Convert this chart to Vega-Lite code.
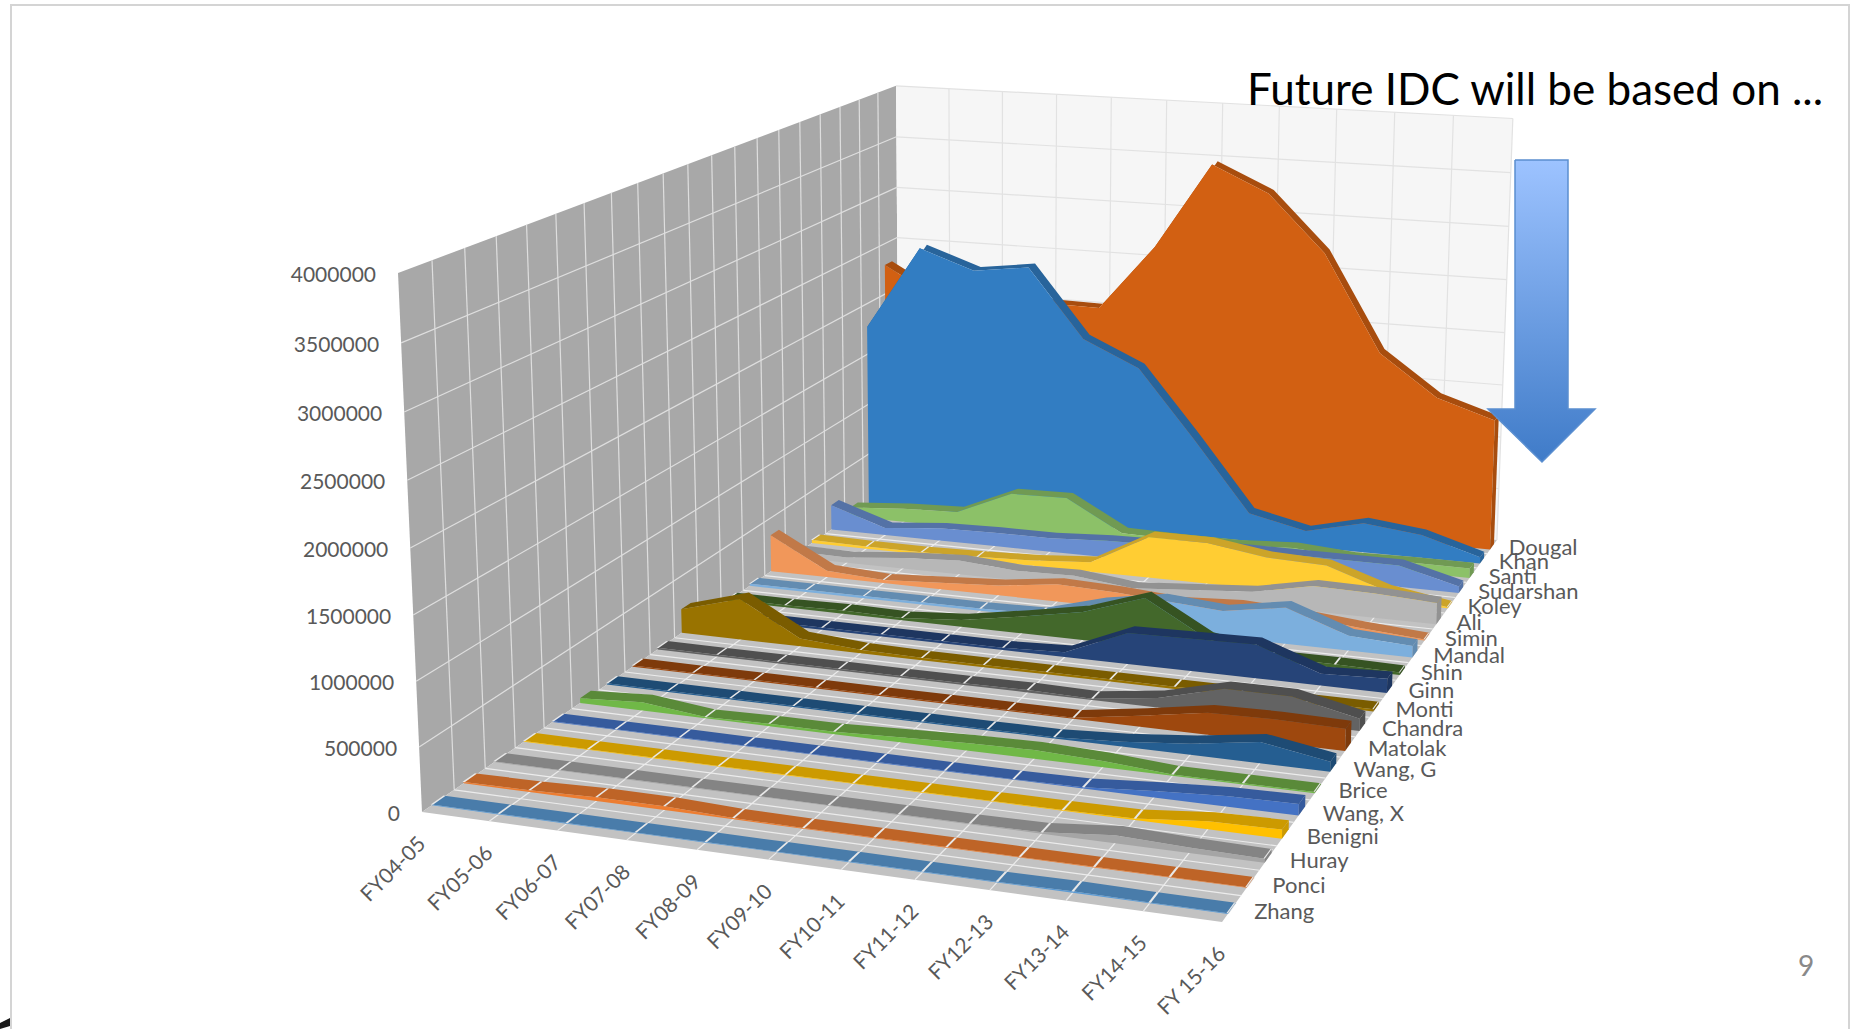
{"$schema":"https://vega.github.io/schema/vega-lite/v6.json","width":1851,"height":1029,"padding":0,"autosize":{"type":"none","contains":"padding"},"background":"white","config":{"view":{"stroke":null}},
"datasets":{
"walls":[
{"p":"left","o":0,"fy":0,"d":0,"val":0},{"p":"left","o":1,"fy":0,"d":20,"val":0},{"p":"left","o":2,"fy":0,"d":20,"val":4000000},{"p":"left","o":3,"fy":0,"d":0,"val":4000000},
{"p":"back","o":0,"fy":0,"d":20,"val":0},{"p":"back","o":1,"fy":11,"d":20,"val":0},{"p":"back","o":2,"fy":11,"d":20,"val":4000000},{"p":"back","o":3,"fy":0,"d":20,"val":4000000},
{"p":"floor","o":0,"fy":0,"d":0,"val":0},{"p":"floor","o":1,"fy":11,"d":0,"val":0},{"p":"floor","o":2,"fy":11,"d":20,"val":0},{"p":"floor","o":3,"fy":0,"d":20,"val":0}],
"grid":[
{"w":"left","fy":0,"d":1,"val":0,"fy2":0,"d2":1,"val2":4000000},{"w":"left","fy":0,"d":2,"val":0,"fy2":0,"d2":2,"val2":4000000},{"w":"left","fy":0,"d":3,"val":0,"fy2":0,"d2":3,"val2":4000000},{"w":"left","fy":0,"d":4,"val":0,"fy2":0,"d2":4,"val2":4000000},{"w":"left","fy":0,"d":5,"val":0,"fy2":0,"d2":5,"val2":4000000},{"w":"left","fy":0,"d":6,"val":0,"fy2":0,"d2":6,"val2":4000000},{"w":"left","fy":0,"d":7,"val":0,"fy2":0,"d2":7,"val2":4000000},{"w":"left","fy":0,"d":8,"val":0,"fy2":0,"d2":8,"val2":4000000},{"w":"left","fy":0,"d":9,"val":0,"fy2":0,"d2":9,"val2":4000000},{"w":"left","fy":0,"d":10,"val":0,"fy2":0,"d2":10,"val2":4000000},{"w":"left","fy":0,"d":11,"val":0,"fy2":0,"d2":11,"val2":4000000},{"w":"left","fy":0,"d":12,"val":0,"fy2":0,"d2":12,"val2":4000000},{"w":"left","fy":0,"d":13,"val":0,"fy2":0,"d2":13,"val2":4000000},{"w":"left","fy":0,"d":14,"val":0,"fy2":0,"d2":14,"val2":4000000},{"w":"left","fy":0,"d":15,"val":0,"fy2":0,"d2":15,"val2":4000000},{"w":"left","fy":0,"d":16,"val":0,"fy2":0,"d2":16,"val2":4000000},{"w":"left","fy":0,"d":17,"val":0,"fy2":0,"d2":17,"val2":4000000},{"w":"left","fy":0,"d":18,"val":0,"fy2":0,"d2":18,"val2":4000000},{"w":"left","fy":0,"d":19,"val":0,"fy2":0,"d2":19,"val2":4000000},
{"w":"left","fy":0,"d":0,"val":500000,"fy2":0,"d2":20,"val2":500000},{"w":"left","fy":0,"d":0,"val":1000000,"fy2":0,"d2":20,"val2":1000000},{"w":"left","fy":0,"d":0,"val":1500000,"fy2":0,"d2":20,"val2":1500000},{"w":"left","fy":0,"d":0,"val":2000000,"fy2":0,"d2":20,"val2":2000000},{"w":"left","fy":0,"d":0,"val":2500000,"fy2":0,"d2":20,"val2":2500000},{"w":"left","fy":0,"d":0,"val":3000000,"fy2":0,"d2":20,"val2":3000000},{"w":"left","fy":0,"d":0,"val":3500000,"fy2":0,"d2":20,"val2":3500000},
{"w":"back","fy":1,"d":20,"val":0,"fy2":1,"d2":20,"val2":4000000},{"w":"back","fy":2,"d":20,"val":0,"fy2":2,"d2":20,"val2":4000000},{"w":"back","fy":3,"d":20,"val":0,"fy2":3,"d2":20,"val2":4000000},{"w":"back","fy":4,"d":20,"val":0,"fy2":4,"d2":20,"val2":4000000},{"w":"back","fy":5,"d":20,"val":0,"fy2":5,"d2":20,"val2":4000000},{"w":"back","fy":6,"d":20,"val":0,"fy2":6,"d2":20,"val2":4000000},{"w":"back","fy":7,"d":20,"val":0,"fy2":7,"d2":20,"val2":4000000},{"w":"back","fy":8,"d":20,"val":0,"fy2":8,"d2":20,"val2":4000000},{"w":"back","fy":9,"d":20,"val":0,"fy2":9,"d2":20,"val2":4000000},{"w":"back","fy":10,"d":20,"val":0,"fy2":10,"d2":20,"val2":4000000},{"w":"back","fy":11,"d":20,"val":0,"fy2":11,"d2":20,"val2":4000000},
{"w":"back","fy":0,"d":20,"val":500000,"fy2":11,"d2":20,"val2":500000},{"w":"back","fy":0,"d":20,"val":1000000,"fy2":11,"d2":20,"val2":1000000},{"w":"back","fy":0,"d":20,"val":1500000,"fy2":11,"d2":20,"val2":1500000},{"w":"back","fy":0,"d":20,"val":2000000,"fy2":11,"d2":20,"val2":2000000},{"w":"back","fy":0,"d":20,"val":2500000,"fy2":11,"d2":20,"val2":2500000},{"w":"back","fy":0,"d":20,"val":3000000,"fy2":11,"d2":20,"val2":3000000},{"w":"back","fy":0,"d":20,"val":3500000,"fy2":11,"d2":20,"val2":3500000},{"w":"back","fy":0,"d":20,"val":4000000,"fy2":11,"d2":20,"val2":4000000},
{"w":"floor","fy":0,"d":1,"val":0,"fy2":11,"d2":1,"val2":0},{"w":"floor","fy":0,"d":2,"val":0,"fy2":11,"d2":2,"val2":0},{"w":"floor","fy":0,"d":3,"val":0,"fy2":11,"d2":3,"val2":0},{"w":"floor","fy":0,"d":4,"val":0,"fy2":11,"d2":4,"val2":0},{"w":"floor","fy":0,"d":5,"val":0,"fy2":11,"d2":5,"val2":0},{"w":"floor","fy":0,"d":6,"val":0,"fy2":11,"d2":6,"val2":0},{"w":"floor","fy":0,"d":7,"val":0,"fy2":11,"d2":7,"val2":0},{"w":"floor","fy":0,"d":8,"val":0,"fy2":11,"d2":8,"val2":0},{"w":"floor","fy":0,"d":9,"val":0,"fy2":11,"d2":9,"val2":0},{"w":"floor","fy":0,"d":10,"val":0,"fy2":11,"d2":10,"val2":0},{"w":"floor","fy":0,"d":11,"val":0,"fy2":11,"d2":11,"val2":0},{"w":"floor","fy":0,"d":12,"val":0,"fy2":11,"d2":12,"val2":0},{"w":"floor","fy":0,"d":13,"val":0,"fy2":11,"d2":13,"val2":0},{"w":"floor","fy":0,"d":14,"val":0,"fy2":11,"d2":14,"val2":0},{"w":"floor","fy":0,"d":15,"val":0,"fy2":11,"d2":15,"val2":0},{"w":"floor","fy":0,"d":16,"val":0,"fy2":11,"d2":16,"val2":0},{"w":"floor","fy":0,"d":17,"val":0,"fy2":11,"d2":17,"val2":0},{"w":"floor","fy":0,"d":18,"val":0,"fy2":11,"d2":18,"val2":0},{"w":"floor","fy":0,"d":19,"val":0,"fy2":11,"d2":19,"val2":0},
{"w":"floor","fy":1,"d":0,"val":0,"fy2":1,"d2":20,"val2":0},{"w":"floor","fy":2,"d":0,"val":0,"fy2":2,"d2":20,"val2":0},{"w":"floor","fy":3,"d":0,"val":0,"fy2":3,"d2":20,"val2":0},{"w":"floor","fy":4,"d":0,"val":0,"fy2":4,"d2":20,"val2":0},{"w":"floor","fy":5,"d":0,"val":0,"fy2":5,"d2":20,"val2":0},{"w":"floor","fy":6,"d":0,"val":0,"fy2":6,"d2":20,"val2":0},{"w":"floor","fy":7,"d":0,"val":0,"fy2":7,"d2":20,"val2":0},{"w":"floor","fy":8,"d":0,"val":0,"fy2":8,"d2":20,"val2":0},{"w":"floor","fy":9,"d":0,"val":0,"fy2":9,"d2":20,"val2":0},{"w":"floor","fy":10,"d":0,"val":0,"fy2":10,"d2":20,"val2":0}],
"ticks":[{"val":0},{"val":500000},{"val":1000000},{"val":1500000},{"val":2000000},{"val":2500000},{"val":3000000},{"val":3500000},{"val":4000000}],
"cells":[
{"s":"Dougal","j":19,"i":0,"fy":"FY04-05","value":2290000},{"s":"Dougal","j":19,"i":1,"fy":"FY05-06","value":2000000},{"s":"Dougal","j":19,"i":2,"fy":"FY06-07","value":2050000},{"s":"Dougal","j":19,"i":3,"fy":"FY07-08","value":2030000},{"s":"Dougal","j":19,"i":4,"fy":"FY08-09","value":2020000},{"s":"Dougal","j":19,"i":5,"fy":"FY09-10","value":2650000},{"s":"Dougal","j":19,"i":6,"fy":"FY10-11","value":3470000},{"s":"Dougal","j":19,"i":7,"fy":"FY11-12","value":3230000},{"s":"Dougal","j":19,"i":8,"fy":"FY12-13","value":2700000},{"s":"Dougal","j":19,"i":9,"fy":"FY13-14","value":1790000},{"s":"Dougal","j":19,"i":10,"fy":"FY14-15","value":1410000},{"s":"Dougal","j":19,"i":11,"fy":"FY 15-16","value":1240000},
{"s":"Khan","j":18,"i":0,"fy":"FY04-05","value":1770000},{"s":"Khan","j":18,"i":1,"fy":"FY05-06","value":2580000},{"s":"Khan","j":18,"i":2,"fy":"FY06-07","value":2400000},{"s":"Khan","j":18,"i":3,"fy":"FY07-08","value":2470000},{"s":"Khan","j":18,"i":4,"fy":"FY08-09","value":1820000},{"s":"Khan","j":18,"i":5,"fy":"FY09-10","value":1580000},{"s":"Khan","j":18,"i":6,"fy":"FY10-11","value":940000},{"s":"Khan","j":18,"i":7,"fy":"FY11-12","value":270000},{"s":"Khan","j":18,"i":8,"fy":"FY12-13","value":150000},{"s":"Khan","j":18,"i":9,"fy":"FY13-14","value":280000},{"s":"Khan","j":18,"i":10,"fy":"FY14-15","value":220000},{"s":"Khan","j":18,"i":11,"fy":"FY 15-16","value":60000},
{"s":"Santi","j":17,"i":0,"fy":"FY04-05","value":90000},{"s":"Santi","j":17,"i":1,"fy":"FY05-06","value":130000},{"s":"Santi","j":17,"i":2,"fy":"FY06-07","value":150000},{"s":"Santi","j":17,"i":3,"fy":"FY07-08","value":380000},{"s":"Santi","j":17,"i":4,"fy":"FY08-09","value":390000},{"s":"Santi","j":17,"i":5,"fy":"FY09-10","value":100000},{"s":"Santi","j":17,"i":6,"fy":"FY10-11","value":90000},{"s":"Santi","j":17,"i":7,"fy":"FY11-12","value":90000},{"s":"Santi","j":17,"i":8,"fy":"FY12-13","value":120000},{"s":"Santi","j":17,"i":9,"fy":"FY13-14","value":80000},{"s":"Santi","j":17,"i":10,"fy":"FY14-15","value":90000},{"s":"Santi","j":17,"i":11,"fy":"FY 15-16","value":90000},
{"s":"Sudarshan","j":16,"i":0,"fy":"FY04-05","value":240000},{"s":"Sudarshan","j":16,"i":1,"fy":"FY05-06","value":70000},{"s":"Sudarshan","j":16,"i":2,"fy":"FY06-07","value":120000},{"s":"Sudarshan","j":16,"i":3,"fy":"FY07-08","value":130000},{"s":"Sudarshan","j":16,"i":4,"fy":"FY08-09","value":130000},{"s":"Sudarshan","j":16,"i":5,"fy":"FY09-10","value":160000},{"s":"Sudarshan","j":16,"i":6,"fy":"FY10-11","value":170000},{"s":"Sudarshan","j":16,"i":7,"fy":"FY11-12","value":200000},{"s":"Sudarshan","j":16,"i":8,"fy":"FY12-13","value":200000},{"s":"Sudarshan","j":16,"i":9,"fy":"FY13-14","value":200000},{"s":"Sudarshan","j":16,"i":10,"fy":"FY14-15","value":200000},{"s":"Sudarshan","j":16,"i":11,"fy":"FY 15-16","value":60000},
{"s":"Koley","j":15,"i":0,"fy":"FY04-05","value":30000},{"s":"Koley","j":15,"i":1,"fy":"FY05-06","value":20000},{"s":"Koley","j":15,"i":2,"fy":"FY06-07","value":20000},{"s":"Koley","j":15,"i":3,"fy":"FY07-08","value":30000},{"s":"Koley","j":15,"i":4,"fy":"FY08-09","value":50000},{"s":"Koley","j":15,"i":5,"fy":"FY09-10","value":90000},{"s":"Koley","j":15,"i":6,"fy":"FY10-11","value":380000},{"s":"Koley","j":15,"i":7,"fy":"FY11-12","value":380000},{"s":"Koley","j":15,"i":8,"fy":"FY12-13","value":300000},{"s":"Koley","j":15,"i":9,"fy":"FY13-14","value":280000},{"s":"Koley","j":15,"i":10,"fy":"FY14-15","value":100000},{"s":"Koley","j":15,"i":11,"fy":"FY 15-16","value":10000},
{"s":"Ali","j":14,"i":0,"fy":"FY04-05","value":60000},{"s":"Ali","j":14,"i":1,"fy":"FY05-06","value":50000},{"s":"Ali","j":14,"i":2,"fy":"FY06-07","value":100000},{"s":"Ali","j":14,"i":3,"fy":"FY07-08","value":130000},{"s":"Ali","j":14,"i":4,"fy":"FY08-09","value":90000},{"s":"Ali","j":14,"i":5,"fy":"FY09-10","value":100000},{"s":"Ali","j":14,"i":6,"fy":"FY10-11","value":40000},{"s":"Ali","j":14,"i":7,"fy":"FY11-12","value":80000},{"s":"Ali","j":14,"i":8,"fy":"FY12-13","value":120000},{"s":"Ali","j":14,"i":9,"fy":"FY13-14","value":230000},{"s":"Ali","j":14,"i":10,"fy":"FY14-15","value":220000},{"s":"Ali","j":14,"i":11,"fy":"FY 15-16","value":190000},
{"s":"Simin","j":13,"i":0,"fy":"FY04-05","value":340000},{"s":"Simin","j":13,"i":1,"fy":"FY05-06","value":60000},{"s":"Simin","j":13,"i":2,"fy":"FY06-07","value":30000},{"s":"Simin","j":13,"i":3,"fy":"FY07-08","value":60000},{"s":"Simin","j":13,"i":4,"fy":"FY08-09","value":90000},{"s":"Simin","j":13,"i":5,"fy":"FY09-10","value":160000},{"s":"Simin","j":13,"i":6,"fy":"FY10-11","value":140000},{"s":"Simin","j":13,"i":7,"fy":"FY11-12","value":100000},{"s":"Simin","j":13,"i":8,"fy":"FY12-13","value":130000},{"s":"Simin","j":13,"i":9,"fy":"FY13-14","value":100000},{"s":"Simin","j":13,"i":10,"fy":"FY14-15","value":50000},{"s":"Simin","j":13,"i":11,"fy":"FY 15-16","value":10000},
{"s":"Mandal","j":12,"i":0,"fy":"FY04-05","value":20000},{"s":"Mandal","j":12,"i":1,"fy":"FY05-06","value":20000},{"s":"Mandal","j":12,"i":2,"fy":"FY06-07","value":20000},{"s":"Mandal","j":12,"i":3,"fy":"FY07-08","value":20000},{"s":"Mandal","j":12,"i":4,"fy":"FY08-09","value":20000},{"s":"Mandal","j":12,"i":5,"fy":"FY09-10","value":30000},{"s":"Mandal","j":12,"i":6,"fy":"FY10-11","value":180000},{"s":"Mandal","j":12,"i":7,"fy":"FY11-12","value":270000},{"s":"Mandal","j":12,"i":8,"fy":"FY12-13","value":230000},{"s":"Mandal","j":12,"i":9,"fy":"FY13-14","value":320000},{"s":"Mandal","j":12,"i":10,"fy":"FY14-15","value":130000},{"s":"Mandal","j":12,"i":11,"fy":"FY 15-16","value":100000},
{"s":"Shin","j":11,"i":0,"fy":"FY04-05","value":20000},{"s":"Shin","j":11,"i":1,"fy":"FY05-06","value":20000},{"s":"Shin","j":11,"i":2,"fy":"FY06-07","value":30000},{"s":"Shin","j":11,"i":3,"fy":"FY07-08","value":20000},{"s":"Shin","j":11,"i":4,"fy":"FY08-09","value":60000},{"s":"Shin","j":11,"i":5,"fy":"FY09-10","value":150000},{"s":"Shin","j":11,"i":6,"fy":"FY10-11","value":250000},{"s":"Shin","j":11,"i":7,"fy":"FY11-12","value":430000},{"s":"Shin","j":11,"i":8,"fy":"FY12-13","value":130000},{"s":"Shin","j":11,"i":9,"fy":"FY13-14","value":30000},{"s":"Shin","j":11,"i":10,"fy":"FY14-15","value":30000},{"s":"Shin","j":11,"i":11,"fy":"FY 15-16","value":20000},
{"s":"Ginn","j":10,"i":0,"fy":"FY04-05","value":20000},{"s":"Ginn","j":10,"i":1,"fy":"FY05-06","value":20000},{"s":"Ginn","j":10,"i":2,"fy":"FY06-07","value":20000},{"s":"Ginn","j":10,"i":3,"fy":"FY07-08","value":20000},{"s":"Ginn","j":10,"i":4,"fy":"FY08-09","value":20000},{"s":"Ginn","j":10,"i":5,"fy":"FY09-10","value":20000},{"s":"Ginn","j":10,"i":6,"fy":"FY10-11","value":40000},{"s":"Ginn","j":10,"i":7,"fy":"FY11-12","value":270000},{"s":"Ginn","j":10,"i":8,"fy":"FY12-13","value":280000},{"s":"Ginn","j":10,"i":9,"fy":"FY13-14","value":290000},{"s":"Ginn","j":10,"i":10,"fy":"FY14-15","value":100000},{"s":"Ginn","j":10,"i":11,"fy":"FY 15-16","value":120000},
{"s":"Monti","j":9,"i":0,"fy":"FY04-05","value":210000},{"s":"Monti","j":9,"i":1,"fy":"FY05-06","value":360000},{"s":"Monti","j":9,"i":2,"fy":"FY06-07","value":70000},{"s":"Monti","j":9,"i":3,"fy":"FY07-08","value":30000},{"s":"Monti","j":9,"i":4,"fy":"FY08-09","value":20000},{"s":"Monti","j":9,"i":5,"fy":"FY09-10","value":20000},{"s":"Monti","j":9,"i":6,"fy":"FY10-11","value":20000},{"s":"Monti","j":9,"i":7,"fy":"FY11-12","value":20000},{"s":"Monti","j":9,"i":8,"fy":"FY12-13","value":20000},{"s":"Monti","j":9,"i":9,"fy":"FY13-14","value":20000},{"s":"Monti","j":9,"i":10,"fy":"FY14-15","value":20000},{"s":"Monti","j":9,"i":11,"fy":"FY 15-16","value":20000},
{"s":"Chandra","j":8,"i":0,"fy":"FY04-05","value":15000},{"s":"Chandra","j":8,"i":1,"fy":"FY05-06","value":15000},{"s":"Chandra","j":8,"i":2,"fy":"FY06-07","value":15000},{"s":"Chandra","j":8,"i":3,"fy":"FY07-08","value":15000},{"s":"Chandra","j":8,"i":4,"fy":"FY08-09","value":15000},{"s":"Chandra","j":8,"i":5,"fy":"FY09-10","value":15000},{"s":"Chandra","j":8,"i":6,"fy":"FY10-11","value":20000},{"s":"Chandra","j":8,"i":7,"fy":"FY11-12","value":10000},{"s":"Chandra","j":8,"i":8,"fy":"FY12-13","value":80000},{"s":"Chandra","j":8,"i":9,"fy":"FY13-14","value":220000},{"s":"Chandra","j":8,"i":10,"fy":"FY14-15","value":220000},{"s":"Chandra","j":8,"i":11,"fy":"FY 15-16","value":100000},
{"s":"Matolak","j":7,"i":0,"fy":"FY04-05","value":10000},{"s":"Matolak","j":7,"i":1,"fy":"FY05-06","value":10000},{"s":"Matolak","j":7,"i":2,"fy":"FY06-07","value":10000},{"s":"Matolak","j":7,"i":3,"fy":"FY07-08","value":10000},{"s":"Matolak","j":7,"i":4,"fy":"FY08-09","value":10000},{"s":"Matolak","j":7,"i":5,"fy":"FY09-10","value":10000},{"s":"Matolak","j":7,"i":6,"fy":"FY10-11","value":10000},{"s":"Matolak","j":7,"i":7,"fy":"FY11-12","value":10000},{"s":"Matolak","j":7,"i":8,"fy":"FY12-13","value":90000},{"s":"Matolak","j":7,"i":9,"fy":"FY13-14","value":180000},{"s":"Matolak","j":7,"i":10,"fy":"FY14-15","value":190000},{"s":"Matolak","j":7,"i":11,"fy":"FY 15-16","value":180000},
{"s":"Wang, G","j":6,"i":0,"fy":"FY04-05","value":10000},{"s":"Wang, G","j":6,"i":1,"fy":"FY05-06","value":10000},{"s":"Wang, G","j":6,"i":2,"fy":"FY06-07","value":10000},{"s":"Wang, G","j":6,"i":3,"fy":"FY07-08","value":10000},{"s":"Wang, G","j":6,"i":4,"fy":"FY08-09","value":10000},{"s":"Wang, G","j":6,"i":5,"fy":"FY09-10","value":10000},{"s":"Wang, G","j":6,"i":6,"fy":"FY10-11","value":10000},{"s":"Wang, G","j":6,"i":7,"fy":"FY11-12","value":10000},{"s":"Wang, G","j":6,"i":8,"fy":"FY12-13","value":40000},{"s":"Wang, G","j":6,"i":9,"fy":"FY13-14","value":90000},{"s":"Wang, G","j":6,"i":10,"fy":"FY14-15","value":170000},{"s":"Wang, G","j":6,"i":11,"fy":"FY 15-16","value":80000},
{"s":"Brice","j":5,"i":0,"fy":"FY04-05","value":40000},{"s":"Brice","j":5,"i":1,"fy":"FY05-06","value":70000},{"s":"Brice","j":5,"i":2,"fy":"FY06-07","value":10000},{"s":"Brice","j":5,"i":3,"fy":"FY07-08","value":20000},{"s":"Brice","j":5,"i":4,"fy":"FY08-09","value":20000},{"s":"Brice","j":5,"i":5,"fy":"FY09-10","value":40000},{"s":"Brice","j":5,"i":6,"fy":"FY10-11","value":60000},{"s":"Brice","j":5,"i":7,"fy":"FY11-12","value":70000},{"s":"Brice","j":5,"i":8,"fy":"FY12-13","value":50000},{"s":"Brice","j":5,"i":9,"fy":"FY13-14","value":10000},{"s":"Brice","j":5,"i":10,"fy":"FY14-15","value":10000},{"s":"Brice","j":5,"i":11,"fy":"FY 15-16","value":10000},
{"s":"Wang, X","j":4,"i":0,"fy":"FY04-05","value":5000},{"s":"Wang, X","j":4,"i":1,"fy":"FY05-06","value":5000},{"s":"Wang, X","j":4,"i":2,"fy":"FY06-07","value":5000},{"s":"Wang, X","j":4,"i":3,"fy":"FY07-08","value":5000},{"s":"Wang, X","j":4,"i":4,"fy":"FY08-09","value":5000},{"s":"Wang, X","j":4,"i":5,"fy":"FY09-10","value":5000},{"s":"Wang, X","j":4,"i":6,"fy":"FY10-11","value":5000},{"s":"Wang, X","j":4,"i":7,"fy":"FY11-12","value":5000},{"s":"Wang, X","j":4,"i":8,"fy":"FY12-13","value":10000},{"s":"Wang, X","j":4,"i":9,"fy":"FY13-14","value":50000},{"s":"Wang, X","j":4,"i":10,"fy":"FY14-15","value":80000},{"s":"Wang, X","j":4,"i":11,"fy":"FY 15-16","value":90000},
{"s":"Benigni","j":3,"i":0,"fy":"FY04-05","value":5000},{"s":"Benigni","j":3,"i":1,"fy":"FY05-06","value":5000},{"s":"Benigni","j":3,"i":2,"fy":"FY06-07","value":5000},{"s":"Benigni","j":3,"i":3,"fy":"FY07-08","value":5000},{"s":"Benigni","j":3,"i":4,"fy":"FY08-09","value":5000},{"s":"Benigni","j":3,"i":5,"fy":"FY09-10","value":5000},{"s":"Benigni","j":3,"i":6,"fy":"FY10-11","value":5000},{"s":"Benigni","j":3,"i":7,"fy":"FY11-12","value":5000},{"s":"Benigni","j":3,"i":8,"fy":"FY12-13","value":5000},{"s":"Benigni","j":3,"i":9,"fy":"FY13-14","value":10000},{"s":"Benigni","j":3,"i":10,"fy":"FY14-15","value":60000},{"s":"Benigni","j":3,"i":11,"fy":"FY 15-16","value":70000},
{"s":"Huray","j":2,"i":0,"fy":"FY04-05","value":5000},{"s":"Huray","j":2,"i":1,"fy":"FY05-06","value":5000},{"s":"Huray","j":2,"i":2,"fy":"FY06-07","value":5000},{"s":"Huray","j":2,"i":3,"fy":"FY07-08","value":5000},{"s":"Huray","j":2,"i":4,"fy":"FY08-09","value":5000},{"s":"Huray","j":2,"i":5,"fy":"FY09-10","value":5000},{"s":"Huray","j":2,"i":6,"fy":"FY10-11","value":5000},{"s":"Huray","j":2,"i":7,"fy":"FY11-12","value":5000},{"s":"Huray","j":2,"i":8,"fy":"FY12-13","value":10000},{"s":"Huray","j":2,"i":9,"fy":"FY13-14","value":60000},{"s":"Huray","j":2,"i":10,"fy":"FY14-15","value":40000},{"s":"Huray","j":2,"i":11,"fy":"FY 15-16","value":30000},
{"s":"Ponci","j":1,"i":0,"fy":"FY04-05","value":10000},{"s":"Ponci","j":1,"i":1,"fy":"FY05-06","value":15000},{"s":"Ponci","j":1,"i":2,"fy":"FY06-07","value":30000},{"s":"Ponci","j":1,"i":3,"fy":"FY07-08","value":30000},{"s":"Ponci","j":1,"i":4,"fy":"FY08-09","value":10000},{"s":"Ponci","j":1,"i":5,"fy":"FY09-10","value":5000},{"s":"Ponci","j":1,"i":6,"fy":"FY10-11","value":5000},{"s":"Ponci","j":1,"i":7,"fy":"FY11-12","value":5000},{"s":"Ponci","j":1,"i":8,"fy":"FY12-13","value":5000},{"s":"Ponci","j":1,"i":9,"fy":"FY13-14","value":5000},{"s":"Ponci","j":1,"i":10,"fy":"FY14-15","value":5000},{"s":"Ponci","j":1,"i":11,"fy":"FY 15-16","value":5000},
{"s":"Zhang","j":0,"i":0,"fy":"FY04-05","value":5000},{"s":"Zhang","j":0,"i":1,"fy":"FY05-06","value":5000},{"s":"Zhang","j":0,"i":2,"fy":"FY06-07","value":5000},{"s":"Zhang","j":0,"i":3,"fy":"FY07-08","value":5000},{"s":"Zhang","j":0,"i":4,"fy":"FY08-09","value":5000},{"s":"Zhang","j":0,"i":5,"fy":"FY09-10","value":5000},{"s":"Zhang","j":0,"i":6,"fy":"FY10-11","value":5000},{"s":"Zhang","j":0,"i":7,"fy":"FY11-12","value":5000},{"s":"Zhang","j":0,"i":8,"fy":"FY12-13","value":5000},{"s":"Zhang","j":0,"i":9,"fy":"FY13-14","value":10000},{"s":"Zhang","j":0,"i":10,"fy":"FY14-15","value":5000},{"s":"Zhang","j":0,"i":11,"fy":"FY 15-16","value":5000}],
"arrow":[{"o":0,"px":1515,"py":160},{"o":1,"px":1568,"py":160},{"o":2,"px":1568,"py":409},{"o":3,"px":1595,"py":409},{"o":4,"px":1542,"py":462},{"o":5,"px":1488,"py":409},{"o":6,"px":1515,"py":409},{"o":7,"px":1515,"py":160}],
"frame":[{"p":"a","o":0,"px":11,"py":1029},{"p":"a","o":1,"px":11,"py":5},{"p":"a","o":2,"px":1849,"py":5},{"p":"a","o":3,"px":1849,"py":1029}],
"smudge":[{"o":0,"px":0,"py":1023},{"o":1,"px":10,"py":1018},{"o":2,"px":10,"py":1026},{"o":3,"px":0,"py":1029}],
"notes":[{"t":"Future IDC will be based on ...","px":1247,"py":92,"k":"title"},{"t":"9","px":1798,"py":968,"k":"page"}]
},
"encoding":{
"x":{"field":"px","type":"quantitative","axis":null,"scale":{"domain":[0,1851],"nice":false,"zero":false}},
"y":{"field":"py","type":"quantitative","axis":null,"scale":{"domain":[1029,0],"nice":false,"zero":false}}
},
"layer":[
{"data":{"name":"walls"},
"transform":[{"calculate":"datum.fy/11","as":"u"},{"calculate":"datum.d/20","as":"v"},{"calculate":"datum.val/4000000","as":"w"},
{"calculate":"1-0.0826*datum.u+0.376*datum.v-0.04*datum.w","as":"h"},
{"calculate":"(422+699.1*datum.u+815*datum.v-39.9*datum.w)/datum.h","as":"px"},
{"calculate":"(812+33.8*datum.u-147.4*datum.v-549.9*datum.w)/datum.h","as":"py"}],
"mark":{"type":"line","filled":true,"interpolate":"linear"},
"encoding":{"detail":{"field":"p"},"order":{"field":"o","type":"quantitative"},
"color":{"field":"p","type":"nominal","legend":null,"scale":{"domain":["left","back","floor"],"range":["#a8a8a8","#f6f6f6","#c2c2c2"]}}}},
{"data":{"name":"grid"},
"transform":[
{"calculate":"1-0.0826*datum.fy/11+0.376*datum.d/20-0.04*datum.val/4000000","as":"h"},
{"calculate":"(422+699.1*datum.fy/11+815*datum.d/20-39.9*datum.val/4000000)/datum.h","as":"px"},
{"calculate":"(812+33.8*datum.fy/11-147.4*datum.d/20-549.9*datum.val/4000000)/datum.h","as":"py"},
{"calculate":"1-0.0826*datum.fy2/11+0.376*datum.d2/20-0.04*datum.val2/4000000","as":"h2"},
{"calculate":"(422+699.1*datum.fy2/11+815*datum.d2/20-39.9*datum.val2/4000000)/datum.h2","as":"px2"},
{"calculate":"(812+33.8*datum.fy2/11-147.4*datum.d2/20-549.9*datum.val2/4000000)/datum.h2","as":"py2"}],
"mark":{"type":"rule","strokeWidth":1.2},
"encoding":{"x2":{"field":"px2"},"y2":{"field":"py2"},
"color":{"field":"w","type":"nominal","legend":null,"scale":{"domain":["left","back","floor"],"range":["#dedede","#e2e2e2","#ececec"]}}}},
{"data":{"name":"cells"},
"transform":[
{"calculate":"[0,1,2,3,4,5,6,7,8,9,10,11]","as":"code"},{"flatten":["code"]},
{"filter":"datum.code<4||(datum.code<8&&datum.value<=30000)||(datum.code>=8&&datum.i==11)"},
{"calculate":"datum.code<2?'t':datum.code<4?'f':datum.code<8?'g':'c'","as":"kind"},
{"calculate":"datum.kind=='g'?datum.s+'|g'+datum.i:datum.s+'|'+datum.kind","as":"poly"},
{"calculate":"datum.kind=='f'?datum.s+'|f':datum.kind=='g'?'grid':datum.s+'|t'","as":"ckey"},
{"calculate":"datum.i/11+((datum.code==4||datum.code==7)?-0.0015:(datum.code==5||datum.code==6)?0.0015:0)","as":"u"},
{"calculate":"(datum.j+((datum.code==1||datum.code==6||datum.code==7||datum.code==9||datum.code==10)?0.7:0.3))/20","as":"v"},
{"calculate":"(datum.code==3||datum.code==10||datum.code==11)?0:datum.value/4000000","as":"w"},
{"calculate":"(datum.code==0||datum.code==2)?datum.i:(datum.code==1||datum.code==3)?100-datum.i:datum.code","as":"ord"},
{"calculate":"1-0.0826*datum.u+0.376*datum.v-0.04*datum.w","as":"h"},
{"calculate":"(422+699.1*datum.u+815*datum.v-39.9*datum.w)/datum.h","as":"px"},
{"calculate":"(812+33.8*datum.u-147.4*datum.v-549.9*datum.w)/datum.h","as":"py"}],
"mark":{"type":"line","filled":true,"interpolate":"linear"},
"encoding":{"detail":{"field":"poly"},"order":{"field":"ord","type":"quantitative"},
"color":{"field":"ckey","type":"nominal","legend":null,"scale":{
"domain":["Zhang|f","Zhang|t","Ponci|f","Ponci|t","Huray|f","Huray|t","Benigni|f","Benigni|t","Wang, X|f","Wang, X|t","Brice|f","Brice|t","Wang, G|f","Wang, G|t","Matolak|f","Matolak|t","Chandra|f","Chandra|t","Monti|f","Monti|t","Ginn|f","Ginn|t","Shin|f","Shin|t","Mandal|f","Mandal|t","Simin|f","Simin|t","Ali|f","Ali|t","Koley|f","Koley|t","Sudarshan|f","Sudarshan|t","Santi|f","Santi|t","Khan|f","Khan|t","Dougal|f","Dougal|t","grid"],
"range":["#5B9BD5","#497CAA","#ED7D31","#BE6427","#A5A5A5","#848484","#FFC000","#CC9A00","#4472C4","#365B9D","#70B847","#5A8A39","#255E91","#1E4B74","#9E480E","#7E3A0B","#636363","#4F4F4F","#997300","#7A5C00","#264478","#1E3660","#43682B","#365322","#7CAFDD","#638CB1","#F1975A","#C17948","#B7B7B7","#929292","#FFCD33","#CCA429","#698ED0","#5472A6","#8CC168","#709A53","#327DC2","#28649B","#D26012","#A84D0E","#e8e8e8"]}}}},
{"data":{"name":"ticks"},
"transform":[{"calculate":"datum.val/4000000","as":"w"},{"calculate":"1-0.04*datum.w","as":"h"},{"calculate":"(422-39.9*datum.w)/datum.h","as":"px"},{"calculate":"(812-549.9*datum.w)/datum.h","as":"py"}],
"mark":{"type":"text","align":"right","baseline":"middle","dx":-22,"dy":3,"font":"Lato","fontSize":21,"color":"#595959"},
"encoding":{"text":{"field":"val","type":"quantitative","format":"d"}}},
{"data":{"name":"cells"},
"transform":[{"filter":"datum.j==0"},{"calculate":"datum.i/11","as":"u"},{"calculate":"1-0.0826*datum.u","as":"h"},{"calculate":"(422+699.1*datum.u)/datum.h","as":"px"},{"calculate":"(812+33.8*datum.u)/datum.h","as":"py"}],
"mark":{"type":"text","align":"right","baseline":"middle","angle":315,"dx":-20,"dy":21,"font":"Lato","fontSize":21,"color":"#595959"},
"encoding":{"text":{"field":"fy"}}},
{"data":{"name":"cells"},
"transform":[{"filter":"datum.i==11"},{"calculate":"(datum.j+0.5)/20","as":"v"},{"calculate":"1-0.0826*1.026+0.376*datum.v","as":"h"},{"calculate":"(422+699.1*1.026+815*datum.v)/datum.h","as":"px"},{"calculate":"(812+33.8*1.026-147.4*datum.v)/datum.h","as":"py"}],
"mark":{"type":"text","align":"left","baseline":"middle","font":"Lato","fontSize":22,"color":"#595959"},
"encoding":{"text":{"field":"s"}}},
{"data":{"name":"arrow"},
"mark":{"type":"line","filled":true,"interpolate":"linear","stroke":"#5B8FD0","strokeWidth":1.5,"fill":{"gradient":"linear","x1":0,"y1":0,"x2":0,"y2":1,"stops":[{"offset":0,"color":"#9DC3FF"},{"offset":1,"color":"#3F7BC8"}]}},
"encoding":{"order":{"field":"o","type":"quantitative"}}},
{"data":{"name":"frame"},
"mark":{"type":"line","interpolate":"linear","color":"#d4d4d4","strokeWidth":2},
"encoding":{"order":{"field":"o","type":"quantitative"}}},
{"data":{"name":"smudge"},
"mark":{"type":"line","filled":true,"interpolate":"linear","fill":"#1a1a1a"},
"encoding":{"order":{"field":"o","type":"quantitative"}}},
{"data":{"name":"notes"},"transform":[{"filter":"datum.k=='title'"}],
"mark":{"type":"text","align":"left","baseline":"middle","font":"Lato","fontSize":44,"color":"#000000"},
"encoding":{"text":{"field":"t"}}},
{"data":{"name":"notes"},"transform":[{"filter":"datum.k=='page'"}],
"mark":{"type":"text","align":"left","baseline":"middle","font":"Lato","fontSize":28,"color":"#898989"},
"encoding":{"text":{"field":"t"}}}
],
"resolve":{"scale":{"color":"independent"}}
}
